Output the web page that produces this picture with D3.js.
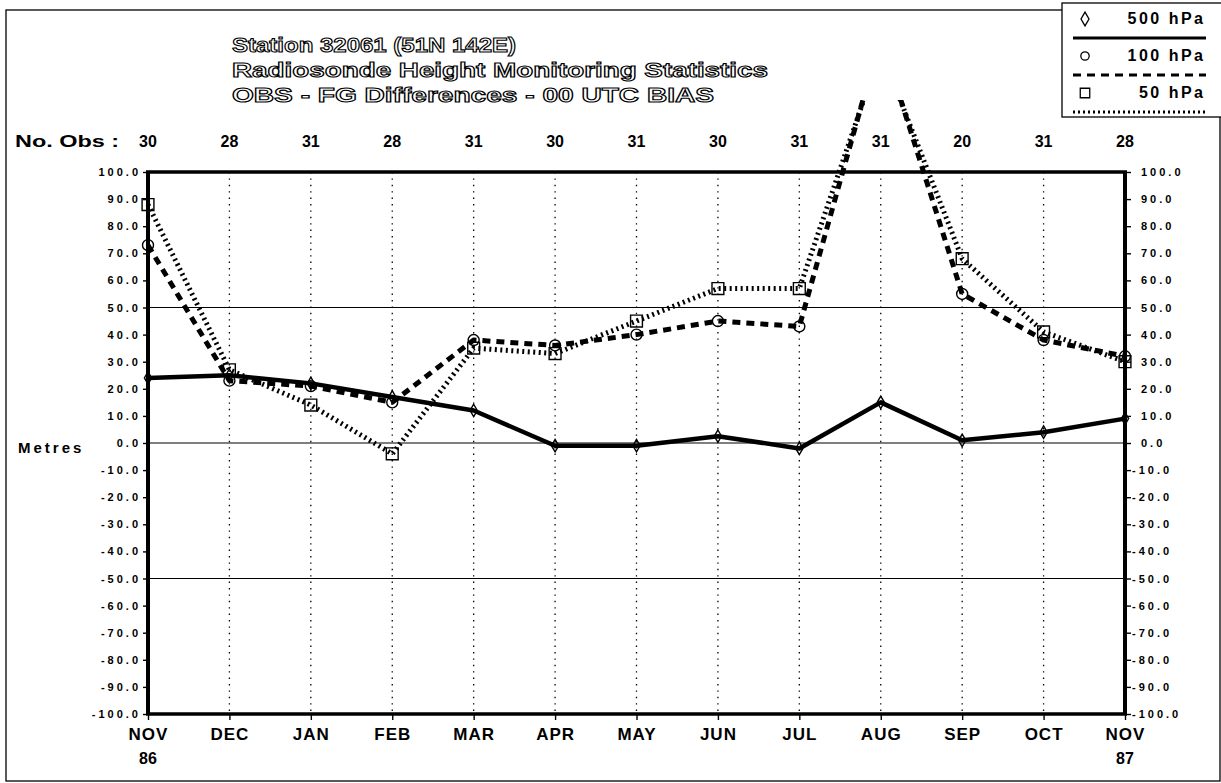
<!DOCTYPE html>
<html>
<head>
<meta charset="utf-8">
<script src="https://cdn.jsdelivr.net/npm/d3@7"></script>
<style>
  body { margin: 0; background: #fff; }
  svg { font-family: "Liberation Sans", Arial, sans-serif; font-weight: bold; }
</style>
</head>
<body>
<div id="chart"></div>
<script>
// monthly bias values, Nov 86 - Nov 87
const months = ["NOV", "DEC", "JAN", "FEB", "MAR", "APR", "MAY", "JUN", "JUL", "AUG", "SEP", "OCT", "NOV"];
const years = ["86", "", "", "", "", "", "", "", "", "", "", "", "87"];
const numObs = [30, 28, 31, 28, 31, 30, 31, 30, 31, 31, 20, 31, 28];
const bias500 = [24, 25, 22, 17, 12, -1, -1, 2.5, -2, 15, 1, 4, 9];
const bias100 = [73, 23, 21, 15, 38, 36, 40, 45, 43, 150, 55, 38, 32];
const bias50 = [88, 27, 14, -4, 35, 33, 45, 57, 57, 145, 68, 41, 30];
const yTicks = d3.range(-100, 101, 10);
const gridValues = [-50, 0, 50];
const titleLines = [
    "Station 32061 (51N 142E)",
    "Radiosonde Height Monitoring Statistics",
    "OBS - FG Differences - 00 UTC  BIAS"
];
const legendItems = [
    { label: "500 hPa", symbol: "diamond", dash: null },
    { label: "100 hPa", symbol: "circle", dash: "8,6" },
    { label: "50 hPa", symbol: "square", dash: "2,3" }
];

const canvWidth = 1221, canvHeight = 783;
const margin = { top: 172, right: 96, bottom: 69, left: 148 };
const width = canvWidth - margin.left - margin.right;
const height = canvHeight - margin.top - margin.bottom;

const svg = d3.select("#chart").append("svg")
    .attr("width", canvWidth)
    .attr("height", canvHeight);

// outer frame
svg.append("rect")
    .attr("x", 6).attr("y", 10)
    .attr("width", 1214).attr("height", 771)
    .attr("fill", "none").attr("stroke", "#000").attr("stroke-width", 1.3);

// title, outlined letters
const titleWidths = [284, 536, 482];
svg.selectAll(".title")
    .data(titleLines)
    .enter()
    .append("text")
    .attr("class", "title")
    .attr("x", 232)
    .attr("y", (d, i) => 52 + i * 25)
    .attr("textLength", (d, i) => titleWidths[i])
    .attr("lengthAdjust", "spacingAndGlyphs")
    .style("font-size", "21px")
    .attr("fill", "#fff")
    .attr("stroke", "#000")
    .attr("stroke-width", 1.1)
    .text(d => d);

const x = d3.scalePoint().domain(d3.range(months.length)).range([0, width]);
const y = d3.scaleLinear().domain([-100, 100]).range([height, 0]);

const g = svg.append("g")
    .attr("transform", `translate(${margin.left},${margin.top})`);

// No. Obs row
svg.append("text")
    .attr("x", 15).attr("y", 147)
    .attr("textLength", 104)
    .attr("lengthAdjust", "spacingAndGlyphs")
    .style("font-size", "16px")
    .text("No. Obs :");

g.selectAll(".nobs")
    .data(numObs)
    .enter()
    .append("text")
    .attr("class", "nobs")
    .attr("x", (d, i) => x(i))
    .attr("y", 147 - margin.top)
    .attr("text-anchor", "middle")
    .style("font-size", "16px")
    .text(d => d);

// gridlines
g.selectAll(".vgrid")
    .data(d3.range(1, months.length - 1))
    .enter()
    .append("line")
    .attr("x1", d => x(d)).attr("x2", d => x(d))
    .attr("y1", 0).attr("y2", height)
    .attr("stroke", "#000").attr("stroke-width", 1.3)
    .attr("stroke-dasharray", "1.4,5");

g.selectAll(".hgrid")
    .data(gridValues)
    .enter()
    .append("line")
    .attr("x1", 0).attr("x2", width)
    .attr("y1", d => y(d)).attr("y2", d => y(d))
    .attr("stroke", "#000").attr("stroke-width", 1.2);

// axes
const fmt = d => d.toFixed(1);
const tickStyle = sel => sel
    .style("font-size", "11px")
    .style("letter-spacing", "3px")
    .style("font-family", "\"Liberation Sans\", Arial, sans-serif")
    .style("font-weight", "bold");

const yAxisLeft = g.append("g")
    .call(d3.axisLeft(y).tickValues(yTicks).tickFormat(fmt).tickSize(5).tickPadding(5));
yAxisLeft.selectAll("text").attr("dx", "3px").call(tickStyle);

const yAxisRight = g.append("g")
    .attr("transform", `translate(${width},0)`)
    .call(d3.axisRight(y).tickValues(yTicks).tickFormat(fmt).tickSize(6).tickPadding(8));
yAxisRight.selectAll("text")
    .attr("x", d => d < 0 ? 7 : 16)
    .call(tickStyle);

const xAxis = g.append("g")
    .attr("transform", `translate(0,${height})`)
    .call(d3.axisBottom(x).tickFormat(i => months[i]).tickSize(6).tickPadding(8));
xAxis.selectAll("text")
    .style("font-size", "17px")
    .style("letter-spacing", "1px")
    .style("font-family", "\"Liberation Sans\", Arial, sans-serif")
    .style("font-weight", "bold");

[yAxisLeft, yAxisRight, xAxis].forEach(a => {
    a.select(".domain").remove();
    a.selectAll(".tick line").attr("stroke-width", 1.4);
});

g.selectAll(".year")
    .data(years)
    .enter()
    .append("text")
    .attr("x", (d, i) => x(i))
    .attr("y", height + 50)
    .attr("text-anchor", "middle")
    .style("font-size", "16px")
    .text(d => d);

// plot frame
g.append("line").attr("x1", -2).attr("x2", width + 2).attr("y1", 0).attr("y2", 0)
    .attr("stroke", "#000").attr("stroke-width", 3.5);
g.append("line").attr("x1", -2).attr("x2", width + 2).attr("y1", height).attr("y2", height)
    .attr("stroke", "#000").attr("stroke-width", 3.5);
g.append("line").attr("x1", 0).attr("x2", 0).attr("y1", 0).attr("y2", height)
    .attr("stroke", "#000").attr("stroke-width", 4);
g.append("line").attr("x1", width).attr("x2", width).attr("y1", 0).attr("y2", height)
    .attr("stroke", "#000").attr("stroke-width", 4);

svg.append("text")
    .attr("x", 18).attr("y", 453)
    .style("font-size", "15px")
    .style("letter-spacing", "3px")
    .text("Metres");

// series, clipped just above the No. Obs row
svg.append("clipPath")
    .attr("id", "clip")
    .append("rect")
    .attr("x", -margin.left).attr("y", 100 - margin.top)
    .attr("width", canvWidth).attr("height", canvHeight);

const series = [
    { values: bias500, symbol: d3.symbolDiamond, size: 45, width: 4.5, dash: null },
    { values: bias100, symbol: d3.symbolCircle, size: 95, width: 5, dash: "8,6" },
    { values: bias50, symbol: d3.symbolSquare, size: 140, width: 5, dash: "2,3.5" }
];

const line = d3.line()
    .x((d, i) => x(i))
    .y(d => y(d));

const plot = g.append("g").attr("clip-path", "url(#clip)");

series.forEach(s => {
    plot.append("path")
        .datum(s.values)
        .attr("d", line)
        .attr("fill", "none")
        .attr("stroke", "#000")
        .attr("stroke-width", s.width)
        .attr("stroke-linejoin", "round")
        .attr("stroke-dasharray", s.dash);

    plot.selectAll(null)
        .data(s.values)
        .enter()
        .append("path")
        .attr("transform", (d, i) => `translate(${x(i)},${y(d)})`)
        .attr("d", d3.symbol(s.symbol, s.size))
        .attr("fill", "none")
        .attr("stroke", "#000")
        .attr("stroke-width", 1.4);
});

// legend
const legend = svg.append("g");
legend.append("rect")
    .attr("x", 1062).attr("y", 3)
    .attr("width", 170).attr("height", 114)
    .attr("fill", "#fff").attr("stroke", "#000").attr("stroke-width", 1.3);

const legendSymbols = { diamond: d3.symbolDiamond, circle: d3.symbolCircle, square: d3.symbolSquare };

const rows = legend.selectAll(".row")
    .data(legendItems)
    .enter()
    .append("g")
    .attr("transform", (d, i) => `translate(0,${i * 37})`);

rows.append("path")
    .attr("transform", "translate(1085,19)")
    .attr("d", d => d3.symbol(legendSymbols[d.symbol], d.symbol === "square" ? 90 : 55)())
    .attr("fill", "none").attr("stroke", "#000").attr("stroke-width", 1.3);

rows.append("text")
    .attr("x", 1203).attr("y", 24)
    .attr("dx", "2.5px")
    .attr("text-anchor", "end")
    .style("font-size", "16px")
    .style("letter-spacing", "2.5px")
    .text(d => d.label);

rows.append("line")
    .attr("x1", 1073).attr("x2", 1206)
    .attr("y1", 38).attr("y2", 38)
    .attr("stroke", "#000")
    .attr("stroke-width", 3.2)
    .attr("stroke-dasharray", d => d.dash);
</script>
</body>
</html>
